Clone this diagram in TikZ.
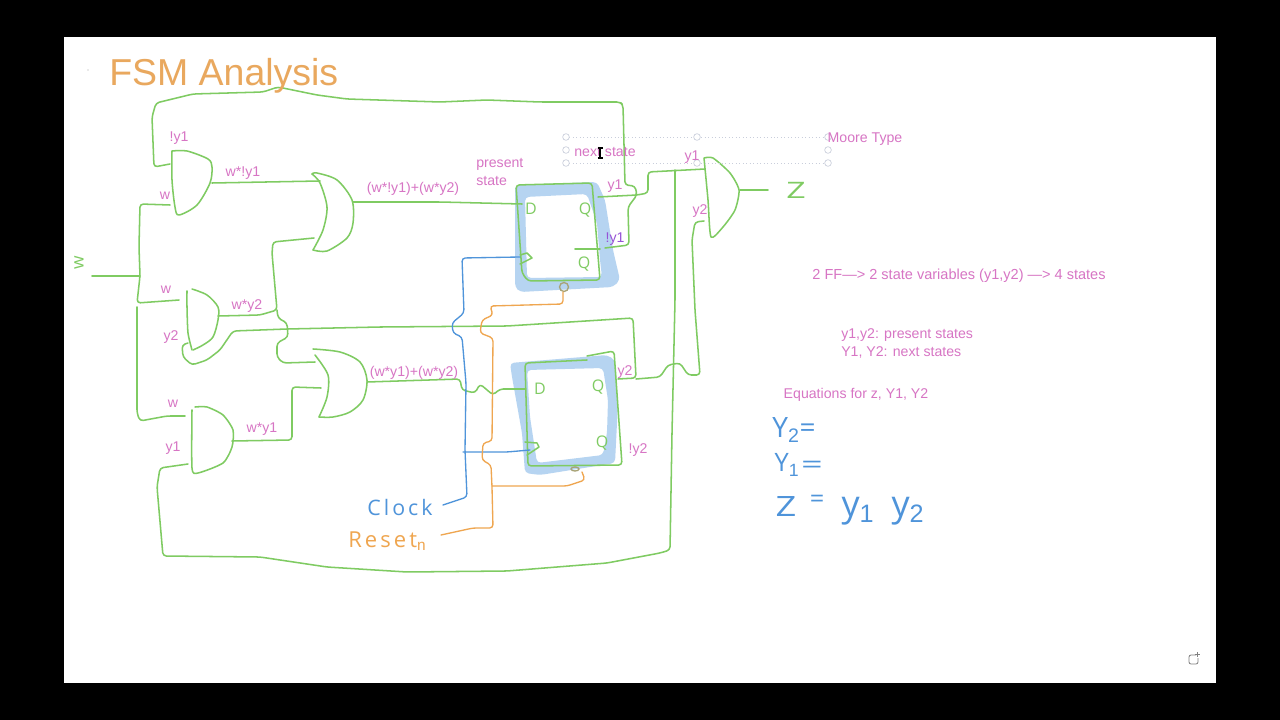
\documentclass[tikz,border=0pt]{standalone}
\usepackage{fontspec}
\setmainfont{Liberation Sans}
\newfontfamily\handfont[LetterSpace=14]{Open Sans}
\newfontfamily\handtight{Open Sans}
\definecolor{slidegreen}{HTML}{7FCB62}
\definecolor{slidepink}{HTML}{D775C4}
\definecolor{slideblue}{HTML}{4F94DA}
\definecolor{slideorange}{HTML}{EFA650}
\definecolor{titleorange}{HTML}{E9A85E}
\definecolor{highlight}{HTML}{B6D4F1}
\definecolor{handlegray}{HTML}{C9CEDB}
\definecolor{bubblegray}{HTML}{A8A376}
\tikzset{
  wire/.style={draw=slidegreen,line width=1.15pt,rounded corners=2.5pt,line cap=round,line join=round},
  gate/.style={draw=slidegreen,line width=1.15pt,line cap=round,line join=round},
  clk/.style={draw=slideblue,line width=1pt,rounded corners=2.5pt,line cap=round},
  rst/.style={draw=slideorange,line width=1pt,rounded corners=2.5pt,line cap=round},
  lab/.style={text=slidepink,font=\fontsize{10.6}{12}\selectfont,inner sep=0pt,align=left,yshift=-1.5pt},
  hand/.style={inner sep=0pt},
  handle/.style={circle,draw=handlegray,fill=white,line width=.5pt,minimum size=5pt,inner sep=0pt},
  guide/.style={draw=handlegray,line width=.6pt,dotted}
}
\begin{document}
\begin{tikzpicture}[x=.75pt,y=-.75pt]
\useasboundingbox (0,0) rectangle (1280,720);
\fill[black] (0,0) rectangle (1280,720);
\fill[white] (64,37) rectangle (1216,683);
\fill[gray!70] (88,70) circle (.4pt);

% pins
\coordinate (a1t) at (170,164);
\coordinate (a1w) at (170,205);
\coordinate (a1o) at (212,183);
\coordinate (o1a) at (320,181);
\coordinate (o1b) at (314,238);
\coordinate (o1o) at (353,202);
\coordinate (a2w) at (179,300);
\coordinate (a2y) at (188,343);
\coordinate (a2o) at (218,316);
\coordinate (o2a) at (315,362);
\coordinate (o2b) at (321,388);
\coordinate (o2o) at (367,382);
\coordinate (a3w) at (185,416);
\coordinate (a3y) at (188,464);
\coordinate (a3o) at (232,441);
\coordinate (f1d) at (522,204);
\coordinate (f1q) at (598,197);
\coordinate (f1n) at (605,248);
\coordinate (f1c) at (520,257);
\coordinate (f1r) at (563,292);
\coordinate (f2d) at (525,389);
\coordinate (f2q) at (618,379);
\coordinate (f2c) at (530,450);
\coordinate (f2r) at (582,472);
\coordinate (a4a) at (705,169);
\coordinate (a4b) at (704,221);
\coordinate (a4o) at (740,190);
\coordinate (zend) at (768,190);
\coordinate (win) at (92,276);
\coordinate (wj) at (140,276);
\coordinate (clkin) at (443,505);
\coordinate (rstin) at (441,535);

% flip-flop highlights
\fill[highlight,even odd rule,rounded corners=3pt]
  (515,185) -- (597,182) -- (605,200) -- (613,250) -- (620,280) -- (613,287) -- (520,292) -- (515,287) -- cycle
  (525,197) -- (587,194) -- (597,223) -- (600,260) -- (602,277) -- (527,278) -- cycle;
\fill[highlight,even odd rule,rounded corners=3pt]
  (510,363) -- (607,355) -- (615,360) -- (618,403) -- (615,463) -- (540,475) -- (525,473) -- (522,433) -- (512,377) -- cycle
  (527,370) -- (603,368) -- (608,400) -- (607,433) -- (603,455) -- (537,463) -- (530,417) -- cycle;

% gates
\draw[gate] plot[smooth,tension=.5] coordinates {(172,151) (187,151) (208,159) (212,167) (210,183) (197,205) (179,215) (175,207) (172,180) (172,151)};
\draw[gate] plot[smooth,tension=.5] coordinates {(312,174) (317,173) (337,180) (352,200) (353,223) (347,238) (327,251) (313,250)};
\draw[gate] plot[smooth,tension=.5] coordinates {(313,250) (323,230) (327,207) (320,183) (312,174)};
\draw[gate] plot[smooth,tension=.4] coordinates {(187,291) (187,307) (188,333) (192,350)};
\draw[gate] plot[smooth,tension=.5] coordinates {(192,289) (207,295) (218,307) (218,320) (213,337) (203,345) (193,350)};
\draw[gate] plot[smooth,tension=.5] coordinates {(313,349) (340,352) (360,362) (367,380) (363,400) (350,412) (333,417) (319,417)};
\draw[gate] plot[smooth,tension=.5] coordinates {(319,417) (327,397) (328,375) (315,355)};
\draw[gate] plot[smooth,tension=.4] coordinates {(192,410) (192,468) (198,473) (223,463) (232,447) (233,430) (223,415) (207,407) (195,407)};
\draw[gate] plot[smooth,tension=.4] coordinates {(704,158) (713,158) (730,173) (739,190) (735,210) (723,227) (711,237) (708,200) (704,158)};

% flip-flop boxes
\draw[wire] (516,185) -- (592,183) -- (600,280) -- (528,281) -- (522,273) -- cycle;
\draw[wire] (587,360) -- (525,363) -- (528,466) -- (622,465) -- (614,351) -- (587,356);
% flip-flop pins
\draw[gate] (520,255) -- (527,253) -- (532,258) -- (520,264);
\draw[gate] (525,442) -- (537,443) -- (539,447) -- (527,455);
\draw[gate] (575,249) -- (600,249);
\draw[draw=bubblegray,line width=1pt] (564,287) circle (4.5);
\draw[draw=bubblegray,line width=1pt] (575,469) ellipse (4 and 2);
\node[hand,text=slidegreen,font=\handtight\fontsize{12}{12}\selectfont] (f1D) at (531,209) {D};
\node[hand,text=slidegreen,font=\handtight\fontsize{12}{12}\selectfont] (f1Q) at (585,210) {Q};
\node[hand,text=slidegreen,font=\handtight\fontsize{12}{12}\selectfont] (f1B) at (584,264) {Q};
\node[hand,text=slidegreen,font=\handtight\fontsize{12}{12}\selectfont] (f2D) at (540,389) {D};
\node[hand,text=slidegreen,font=\handtight\fontsize{12}{12}\selectfont] (f2Q) at (598,387) {Q};
\node[hand,text=slidegreen,font=\handtight\fontsize{12}{12}\selectfont] (f2B) at (602,443) {Q};

% green wires
\draw[wire] (a1t) -- (154,167) -- (152,117) -- (156,103) -- (193,94) -- (263,92) -- (278,87) -- (317,95) -- (347,99) -- (440,102) -- (487,100) -- (540,102) -- (620,102) -- (623,105) -- (625,185) -- (635,186) -- (637,195) -- (628,207) -- (629,245) -- (f1n);
\draw[wire] (a1w) -- (140,204) -- (139,247) -- (wj) -- (137,303) -- (a2w);
\draw[wire] (137,307) -- (137,413) -- (140,421) -- (167,416) -- (a3w);
\draw[wire] (win) -- (wj);
\draw[wire] (a1o) -- (o1a);
\draw[wire] (o1o) -- (440,202) -- (f1d);
\draw[wire] (o1b) -- (273,242) -- (272,253) -- (277,310) -- (260,315) -- (a2o);
\draw[wire] (277,310) -- (278,318) -- (287,323) -- (288,337) -- (277,343) -- (277,357) -- (283,363) -- (o2a);
\draw[wire] (a2y) -- (182,345) -- (183,357) -- (192,365) -- (207,360) -- (220,350) -- (233,331) -- (287,329) -- (380,327) -- (507,326) -- (633,318) -- (636,378) -- (f2q);
\draw[wire] (636,379) -- (660,377) -- (668,365) -- (680,363) -- (688,375) -- (700,375) -- (695,310) -- (692,240) -- (695,222) -- (a4b);
\draw[wire] (a3o) -- (292,440) -- (292,387) -- (o2b);
\draw[wire] (o2o) -- (460,379) -- (462,390) -- (475,393) -- (480,384) -- (493,395) -- (500,389) -- (f2d);
\draw[wire] (a3y) -- (160,468) -- (157,487) -- (163,556) -- (260,557) -- (327,567) -- (407,572) -- (507,571) -- (607,563) -- (660,553) -- (670,550) -- (672,433) -- (675,300) -- (675,170);
\draw[wire] (f1q) -- (637,195) -- (648,193) -- (648,172) -- (a4a);
\draw[wire] (a4o) -- (zend);

% clock and reset
\draw[clk] (f1c) -- (462,258) -- (464,313) -- (452,323) -- (453,333) -- (462,337) -- (466,383) -- (465,450) -- (467,497) -- (clkin);
\draw[clk] (463,452) -- (507,452) -- (f2c);
\draw[rst] (rstin) -- (473,528) -- (493,528) -- (492,487) -- (491,465) -- (482,460) -- (483,443) -- (492,441) -- (493,338) -- (480,333) -- (482,320) -- (493,315) -- (490,306) -- (563,304) -- (f1r);
\draw[rst] (492,486) -- (567,486) -- (585,480) -- (f2r);

% selection handles
\draw[guide] (566,137) -- (828,137);
\draw[guide] (566,163) -- (828,163);
\node[handle] (h1) at (566,137) {};
\node[handle] (h2) at (566,150) {};
\node[handle] (h3) at (566,163) {};
\node[handle] (h4) at (697,137) {};
\node[handle] (h5) at (697,163) {};
\node[handle] (h6) at (828,137) {};
\node[handle] (h7) at (828,150) {};
\node[handle] (h8) at (828,163) {};

% labels
\node[inner sep=0pt,text=titleorange,font=\fontsize{28.1}{30}\selectfont,anchor=west] (title) at (109,76) {FSM Analysis};
\node[lab] (l1) at (179,136) {!y1};
\node[lab] (l2) at (243,171) {w*!y1};
\node[lab] (l3) at (165,194) {w};
\node[lab] (l4) at (413,187) {(w*!y1)+(w*y2)};
\node[lab,anchor=north west] (l5) at (476,156) {present\\[1.5pt]state};
\node[lab] (l6) at (605,150) {next state};
\node[lab] (l7) at (615,184) {y1};
\node[lab,text=slidepink!70!blue] (l8) at (615,237) {!y1};
\node[lab] (l9) at (692,155) {y1};
\node[lab] (l10) at (700,209) {y2};
\node[lab] (l11) at (865,137) {Moore Type};
\node[lab,font=\fontsize{10.9}{12}\selectfont] (l12) at (959,274) {2 FF—> 2 state variables (y1,y2) —> 4 states};
\node[lab,anchor=north west] (l13) at (841,326) {y1,y2: present states\\[1.5pt]Y1, Y2: next states};
\node[lab] (l14) at (856,393) {Equations for z, Y1, Y2};
\node[lab] (l15) at (166,288) {w};
\node[lab] (l16) at (247,304) {w*y2};
\node[lab] (l17) at (171,335) {y2};
\node[lab] (l18) at (414,371) {(w*y1)+(w*y2)};
\node[lab] (l19) at (173,402) {w};
\node[lab] (l20) at (262,427) {w*y1};
\node[lab] (l21) at (173,446) {y1};
\node[lab] (l22) at (625,370) {y2};
\node[lab] (l23) at (638,448) {!y2};

% handwritten text
\node[hand,text=slidegreen,font=\handtight\fontsize{13}{13}\selectfont,rotate=90] (hw) at (79,263) {w};
\node[hand,text=slidegreen,font=\handtight\fontsize{17}{17}\selectfont,xscale=1.5] (hz) at (796,190) {Z};
\node[hand,text=slideblue,font=\handfont\fontsize{16}{16}\selectfont] (hclk) at (400,507) {Clock};
\node[hand,text=slideorange,font=\handfont\fontsize{16.5}{16}\selectfont,anchor=west] (hrst) at (348,541) {Reset$_{\mathrm{n}}$};
\node[hand,text=slideblue,font=\handtight\fontsize{21}{21}\selectfont] (e1) at (794,430) {Y$_{\mathrm{2}}$=};
\node[hand,text=slideblue,font=\handtight\fontsize{19}{19}\selectfont] (e2y) at (787,465) {Y$_{\mathrm{1}}$};
\node[hand,text=slideblue,font=\handtight\fontsize{19}{19}\selectfont,xscale=1.5] (e2q) at (812,467) {=};
\node[hand,text=slideblue,font=\handtight\fontsize{21}{21}\selectfont,xscale=1.3] (e3z) at (786,507) {Z};
\node[hand,text=slideblue,font=\handtight\fontsize{19}{19}\selectfont] (e3q) at (817,501) {=};
\node[hand,text=slideblue,font=\handtight\fontsize{27}{27}\selectfont] (e3a) at (858,511) {y$_{\mathrm{1}}$};
\node[hand,text=slideblue,font=\handtight\fontsize{27}{27}\selectfont] (e3b) at (908,511) {y$_{\mathrm{2}}$};

% text cursor
\draw[black,line width=.9pt] (600,148) -- (600,158) (597.5,148) -- (602.5,148) (597.5,158) -- (602.5,158);

% corner icon
\draw[gray,line width=.6pt,rounded corners=1.5pt] (1196,655) -- (1189,655) -- (1189,664) -- (1198,664) -- (1198,658);
\draw[gray,line width=.6pt] (1197,652) -- (1197,657) (1194.5,654.5) -- (1199.5,654.5);
\end{tikzpicture}
\end{document}
